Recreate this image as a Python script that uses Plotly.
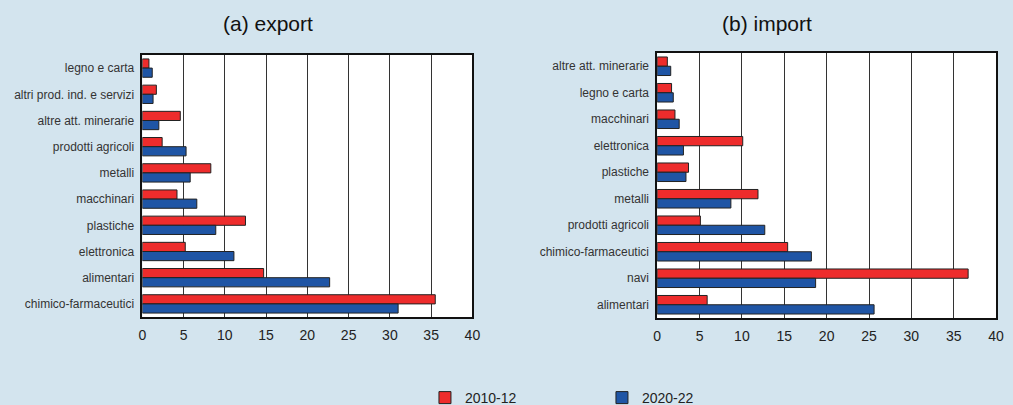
import plotly.graph_objects as go

export_cats = ["legno e carta", "altri prod. ind. e servizi", "altre att. minerarie",
               "prodotti agricoli", "metalli", "macchinari", "plastiche",
               "elettronica", "alimentari", "chimico-farmaceutici"]
export_2010 = [0.8, 1.7, 4.6, 2.4, 8.3, 4.2, 12.5, 5.2, 14.7, 35.5]
export_2020 = [1.2, 1.3, 2.0, 5.3, 5.8, 6.6, 8.9, 11.1, 22.7, 31.0]

import_cats = ["altre att. minerarie", "legno e carta", "macchinari", "elettronica",
               "plastiche", "metalli", "prodotti agricoli", "chimico-farmaceutici",
               "navi", "alimentari"]
import_2010 = [1.2, 1.7, 2.1, 10.1, 3.7, 11.9, 5.1, 15.4, 36.7, 5.9]
import_2020 = [1.6, 1.9, 2.6, 3.1, 3.4, 8.7, 12.7, 18.2, 18.7, 25.6]

x_ticks = [0, 5, 10, 15, 20, 25, 30, 35, 40]
series_names = ["2010-12", "2020-22"]
RED = "#EE2C2C"
BLUE = "#1F55A5"
BG = "#D3E4EE"

W, H = 1013, 405


def py(p):
    return (H - p) / H


fig = go.Figure()
line = dict(color="#222222", width=1)
fig.add_trace(go.Bar(y=export_cats, x=export_2010, orientation="h", name=series_names[0],
                     marker=dict(color=RED, line=line), xaxis="x", yaxis="y"))
fig.add_trace(go.Bar(y=export_cats, x=export_2020, orientation="h", name=series_names[1],
                     marker=dict(color=BLUE, line=line), xaxis="x", yaxis="y"))
fig.add_trace(go.Bar(y=import_cats, x=import_2010, orientation="h", name=series_names[0],
                     marker=dict(color=RED, line=line), xaxis="x2", yaxis="y2", showlegend=False))
fig.add_trace(go.Bar(y=import_cats, x=import_2020, orientation="h", name=series_names[1],
                     marker=dict(color=BLUE, line=line), xaxis="x2", yaxis="y2", showlegend=False))

xax = dict(range=[0, 40], tickvals=x_ticks, showgrid=True, gridcolor="#333333", gridwidth=1,
           showline=True, linecolor="#111111", linewidth=1.5, mirror=True, zeroline=False,
           ticks="", tickfont=dict(size=14, color="#222222"), fixedrange=True,
           ticklabelstandoff=4)
yax = dict(autorange="reversed", showline=True, linecolor="#111111", linewidth=1.5, mirror=True,
           ticks="", tickfont=dict(size=12, color="#333333"), showgrid=False,
           ticklabelstandoff=4)

fig.update_layout(
    width=W, height=H,
    paper_bgcolor=BG, plot_bgcolor="white",
    font=dict(family="Liberation Sans, Arial, sans-serif", color="#222222"),
    margin=dict(l=0, r=0, t=0, b=0),
    barmode="group", bargap=0.3, bargroupgap=0.0,
    xaxis=dict(domain=[140/W, 474/W], anchor="y", **xax),
    yaxis=dict(domain=[py(317), py(55)], anchor="x", **yax),
    xaxis2=dict(domain=[661/W, 1004/W], anchor="y2", **xax),
    yaxis2=dict(domain=[py(318), py(53)], anchor="x2", **yax),
    legend=dict(orientation="h", x=426/W, xanchor="left", y=0.0, yanchor="bottom",
                bgcolor="rgba(0,0,0,0)", font=dict(size=14, color="#222222"),
                entrywidth=132, entrywidthmode="pixels", itemwidth=30),
    annotations=[
        dict(text="(a) export", x=267/W, y=py(23), xref="paper", yref="paper",
             showarrow=False, font=dict(size=21, color="#111111"), xanchor="center", yanchor="middle"),
        dict(text="(b) import", x=772/W, y=py(23), xref="paper", yref="paper",
             showarrow=False, font=dict(size=21, color="#111111"), xanchor="center", yanchor="middle"),
    ],
)

shift_legend = (
    "document.body.style.margin='0';"
    "var lg=document.querySelector('.legend');"
    "if(lg){var t=lg.getAttribute('transform')||'';"
    "var m=t.match(/translate\\(([-\\d.]+)[ ,]+([-\\d.]+)\\)/);"
    "if(m){lg.setAttribute('transform','translate('+m[1]+','+(parseFloat(m[2])+9)+')');}}"
)

fig.write_html("out.html", config={"displayModeBar": False}, post_script=shift_legend)
